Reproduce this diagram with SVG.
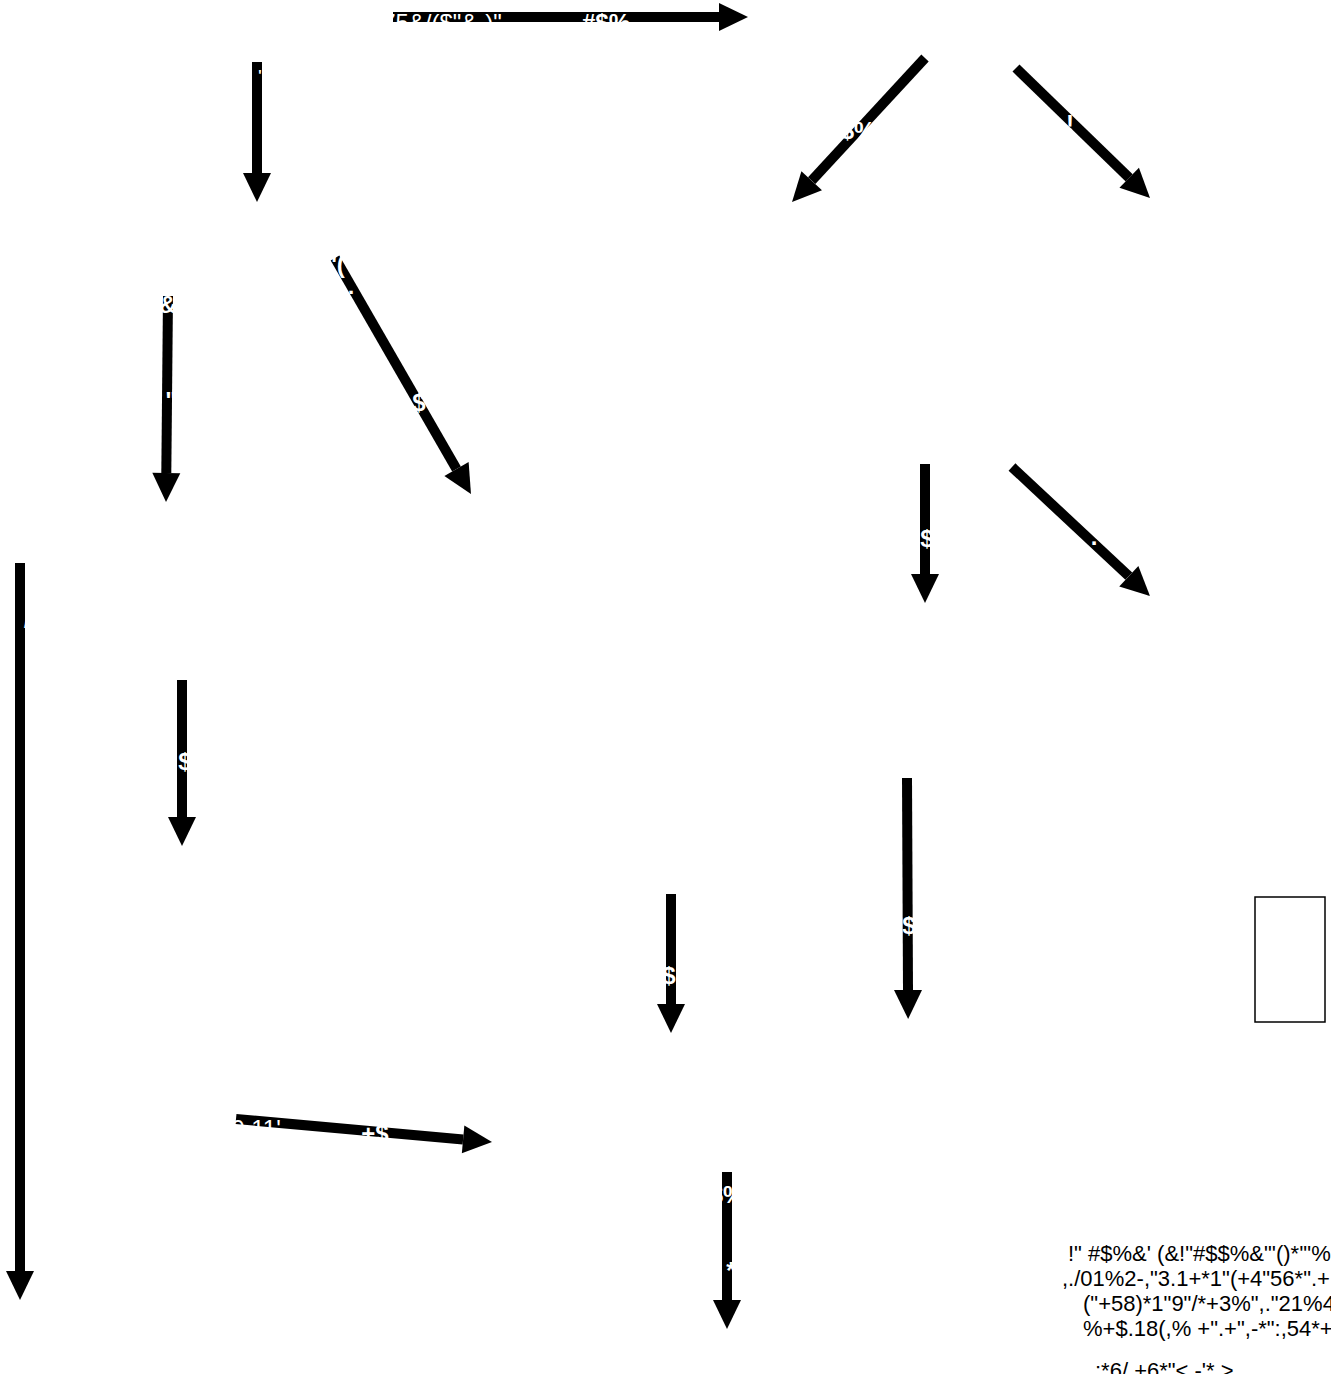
<svg xmlns="http://www.w3.org/2000/svg" width="1331" height="1374" viewBox="0 0 1331 1374">
<style>
.edge{stroke:#000;stroke-width:10;fill:none;marker-end:url(#ah)}
.lbl{fill:#fff;font-family:"Liberation Sans",Arial,sans-serif;font-weight:bold;font-size:24px;text-anchor:middle}
.note{fill:#000;font-family:"Liberation Sans",Arial,sans-serif;font-size:22px}
</style>
<defs>
<marker id="ah" markerUnits="strokeWidth" markerWidth="3" markerHeight="2.8" refX="0" refY="1.4" orient="auto" overflow="visible">
<path d="M0,0 L2.9,1.4 L0,2.8 Z" fill="#000"/>
</marker>
</defs>
<rect width="1331" height="1374" fill="#fff"/>
<g id="connectors">
<line class="edge" x1="393" y1="17" x2="719" y2="17"/>
<line class="edge" x1="257" y1="62" x2="257" y2="173"/>
<line class="edge" x1="925" y1="58" x2="811.7" y2="180.7"/>
<line class="edge" x1="1016" y1="68" x2="1129.2" y2="177.8"/>
<line class="edge" x1="168" y1="296" x2="166.3" y2="473"/>
<line class="edge" x1="335" y1="258" x2="456.5" y2="468.9"/>
<line class="edge" x1="925" y1="464" x2="925" y2="574"/>
<line class="edge" x1="1012" y1="467" x2="1128.8" y2="576.2"/>
<line class="edge" x1="20" y1="563" x2="20" y2="1271"/>
<line class="edge" x1="182" y1="680" x2="182" y2="817"/>
<line class="edge" x1="671" y1="894" x2="671" y2="1004"/>
<line class="edge" x1="907" y1="778" x2="908" y2="990"/>
<line class="edge" x1="236" y1="1119" x2="463.1" y2="1139.4"/>
<line class="edge" x1="727" y1="1172" x2="727" y2="1300"/>
</g>
<g id="labels">
<text class="lbl" x="442" y="31" style="font-weight:normal">75&amp;/($"&amp;·)"</text>
<text class="lbl" x="606" y="31">#$%</text>
<text class="lbl" x="260" y="80" style="font-size:14px">'</text>
<text class="lbl" x="858" y="139">$%</text>
<text class="lbl" x="1070" y="132">!</text>
<text class="lbl" x="168" y="313">&amp;</text>
<text class="lbl" x="171" y="409">"</text>
<text class="lbl" x="338" y="273">'(</text>
<text class="lbl" x="351" y="303">:</text>
<text class="lbl" x="419" y="411">$</text>
<text class="lbl" x="927" y="547">$</text>
<text class="lbl" x="1094" y="545">.</text>
<text class="lbl" x="26" y="628" style="font-size:14px">/</text>
<text class="lbl" x="185" y="770">$</text>
<text class="lbl" x="669" y="984">$</text>
<text class="lbl" x="909" y="934">$</text>
<text class="lbl" x="256" y="1137" style="font-weight:normal">0.11'</text>
<text class="lbl" x="375" y="1142">+$</text>
<text class="lbl" x="727" y="1203">$%</text>
<text class="lbl" x="731" y="1279">*</text>
</g>
<g id="node-box">
<rect x="1255" y="897" width="70" height="125" fill="none" stroke="#000" stroke-width="1.5"/>
</g>
<g id="node-note">
<text class="note" x="1068" y="1261">!"  #$%&amp;' (&amp;!"#$$%&amp;"'()*'"%+",-</text>
<text class="note" x="1062" y="1286">,./01%2-,"3.1+*1"(+4"56*".+</text>
<text class="note" x="1083" y="1311">("+58)*1"9"/*+3%",."21%4"</text>
<text class="note" x="1083" y="1336">%+$.18(,% +".+",-*":,54*+,</text>
<text class="note" x="1095" y="1378">:*6/ +6*"&lt;  -'* &gt;</text>
</g>
</svg>
